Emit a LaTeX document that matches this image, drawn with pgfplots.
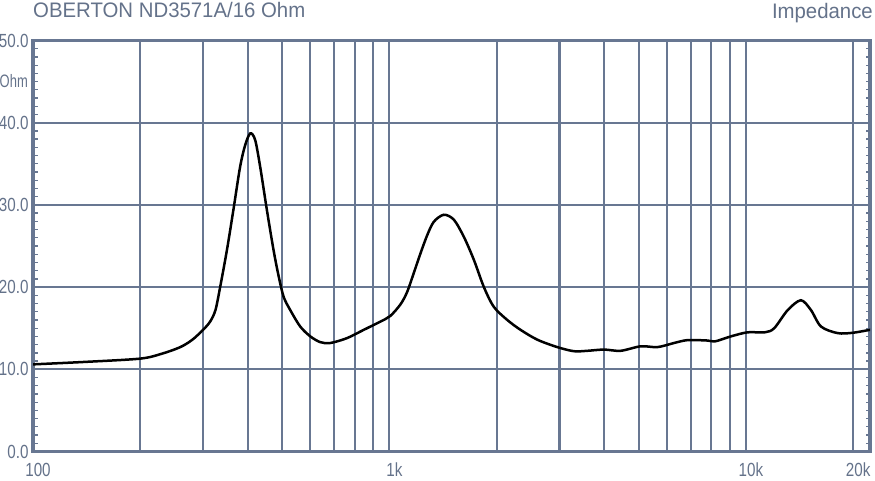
\documentclass[border=0pt]{standalone}
\usepackage{fontspec}
\setmainfont{Liberation Sans}
\newfontfamily\tickf[FakeStretch=0.8]{Liberation Sans}
\newfontfamily\ohmf[FakeStretch=0.72]{Liberation Sans}
\newfontfamily\titlef[FakeStretch=0.97]{Liberation Sans}
\usepackage{pgfplots}
\pgfplotsset{compat=1.18}
\definecolor{gridc}{RGB}{104,119,146}
\definecolor{txtc}{RGB}{100,114,138}
\begin{document}
\begin{tikzpicture}
\useasboundingbox (-33pt,-29.5pt) rectangle (842pt,451.5pt);
\begin{axis}[
  name=ax,
  scale only axis, width=837pt, height=411pt,
  xmode=log, xmin=100, xmax=22300, ymin=0, ymax=50,
  xtick={100,1000,10000,20000}, xticklabels={100,1k,10k,20k},
  minor xtick={200,300,400,500,600,700,800,900,2000,3000,4000,5000,6000,7000,8000,9000},
  ytick={0,10,20,30,40,50}, minor y tick num=9,
  xmajorgrids=true, xminorgrids=true, ymajorgrids=true, yminorgrids=false,
  major grid style={draw=gridc, line width=2.1pt},
  minor grid style={draw=gridc, line width=2.1pt},
  axis line style={draw=gridc, line width=3.5pt},
  xtick style={draw=none},
  ytick style={draw=gridc, line width=1.3pt},
  tick align=inside,
  major tick length=4.5pt, minor tick length=4.5pt,
  /pgf/number format/assume math mode=true,
  yticklabel={\pgfmathprintnumber[fixed,fixed zerofill,precision=1]{\tick}},
  yticklabel style={font=\tickf\fontsize{19}{19}\selectfont, text=txtc, xshift=-1pt},
  xticklabel style={font=\tickf\fontsize{19}{19}\selectfont, text=txtc, xshift=5pt, yshift=-8pt},
  log ticks with fixed point,
]
\addplot[black, line width=2.5pt, smooth] coordinates {
(100,10.6) (140,10.9) (200,11.3) (230,11.9) (259,12.7) (280,13.6) (300,14.8) (314,15.8) (325,17.2) (335,20.0)
(350,24.5) (365,29.4) (381,34.6) (394,37.3) (407,38.7) (420,37.9)
(434,34.6) (453,29.4) (473,24.5) (489,21.3) (505,18.8) (527,17.2) (562,15.2)
(600,14.0) (640,13.3) (683,13.2) (761,13.8) (847,14.8) (943,15.8) (1006,16.5)
(1074,17.9) (1121,19.4) (1170,21.7) (1222,24.1) (1276,26.3) (1332,27.95) (1421,28.8)
(1516,28.2) (1618,26.1) (1726,23.3) (1841,20.0) (1963,17.6) (2141,16.0) (2333,14.8)
(2600,13.6) (2958,12.7) (3293,12.2) (3592,12.25) (4000,12.4) (4454,12.25) (5070,12.8)
(5650,12.7) (6290,13.2) (6862,13.55) (7799,13.5) (8200,13.4) (9073,14.0) (10110,14.5)
(11300,14.5) (12010,15.0) (13100,17.2) (14270,18.4) (15230,17.2) (16250,15.2)
(18100,14.4) (20000,14.45) (22900,14.9)
};
\end{axis}
\node[anchor=east, font=\ohmf\fontsize{18}{18}\selectfont, text=txtc, inner sep=0pt] at (-5pt,370pt) {Ohm};
\node[anchor=base west, font=\titlef\fontsize{21}{21}\selectfont, text=txtc, inner sep=0pt] at (0pt,434.2pt) {OBERTON ND3571A/16 Ohm};
\node[anchor=base east, font=\titlef\fontsize{21}{21}\selectfont, text=txtc, inner sep=0pt] at (840pt,432.5pt) {Impedance};
\end{tikzpicture}
\end{document}
